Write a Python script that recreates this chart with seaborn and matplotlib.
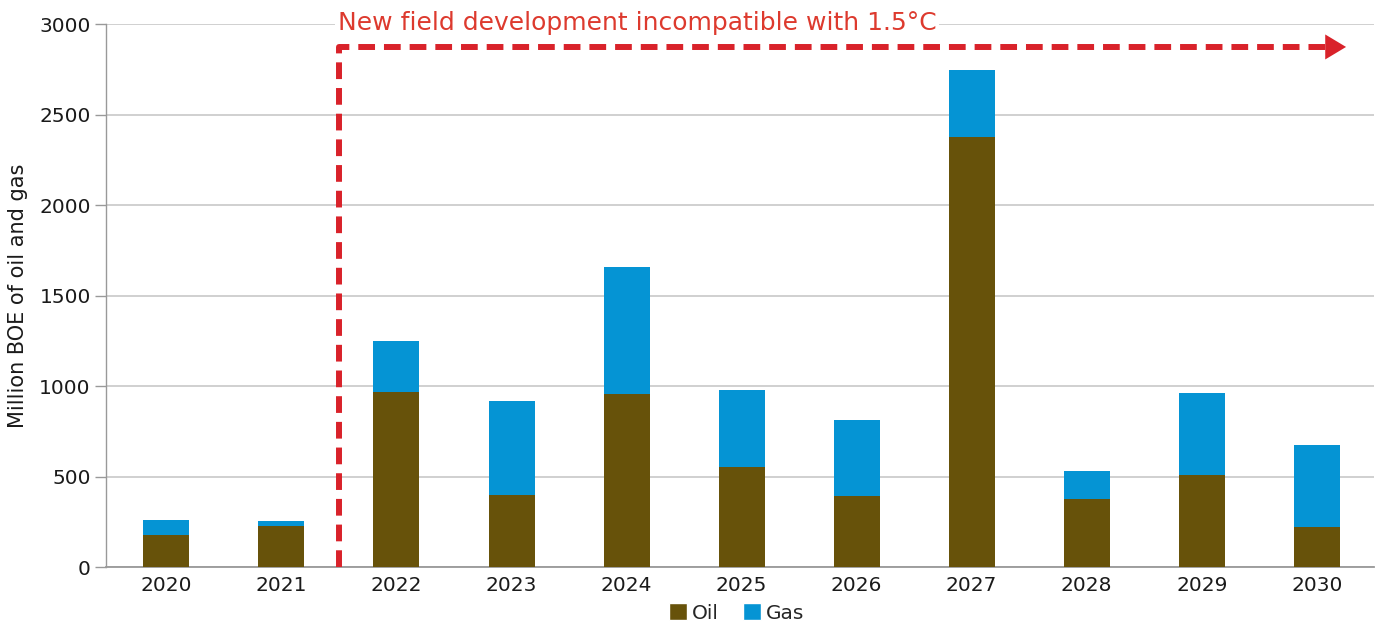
import numpy as np
import pandas as pd
import matplotlib
matplotlib.use("Agg")
import matplotlib.pyplot as plt
from matplotlib.patches import Patch
import seaborn as sns

years = ["2020", "2021", "2022", "2023", "2024", "2025", "2026", "2027", "2028", "2029", "2030"]
oil = [180, 228, 968, 400, 957, 556, 393, 2378, 379, 509, 225]
gas = [82, 28, 282, 516, 702, 426, 422, 368, 155, 455, 451]
yticks = [0, 500, 1000, 1500, 2000, 2500, 3000]

OIL_C = "#67520a"
GAS_C = "#0594d4"
RED = "#d9222a"
TXT = "#1a1a1a"
GRID = "#c8c8c8"

df = pd.DataFrame({"year": years, "oil": oil, "gas": gas})
df["total"] = df["oil"] + df["gas"]

sns.set_theme(style="white")
plt.rcParams["font.family"] = ["DejaVu Sans"]

fig = plt.figure(figsize=(13.77, 6.24), dpi=100)
ax = fig.add_axes([0.077, 0.091, 0.921, 0.870])

# stacked bars: full height in gas colour, oil drawn over the lower part
sns.barplot(data=df, x="year", y="total", color=GAS_C, width=0.4,
            saturation=1, ax=ax, zorder=3, edgecolor="none")
sns.barplot(data=df, x="year", y="oil", color=OIL_C, width=0.4,
            saturation=1, ax=ax, zorder=4, edgecolor="none")

ax.set_xlim(-0.525, 10.5)
ax.set_ylim(0, 3000)
ax.set_yticks(yticks)
ax.set_yticklabels([str(t) for t in yticks], fontsize=14.5, color=TXT)
ax.tick_params(axis="x", labelsize=14.5, colors=TXT, length=0, pad=6)
ax.tick_params(axis="y", length=8, width=1, color="#999999", pad=3, left=True)
ax.yaxis.grid(True, color=GRID, linewidth=1.2, zorder=0)
ax.set_axisbelow(True)
ax.set_xlabel("")
ax.set_ylabel("Million BOE of oil and gas", fontsize=15, color=TXT, labelpad=8)

for s in ["top", "right"]:
    ax.spines[s].set_visible(False)
ax.spines["left"].set_color("#999999")
ax.spines["left"].set_linewidth(1)
ax.spines["bottom"].set_color("#999999")
ax.spines["bottom"].set_linewidth(1.3)

# boundary of new field development
x0, x1, yl = 1.5, 10.1, 2875
ax.plot([x0, x0, x1], [0, yl, yl], color=RED, linewidth=4.3,
        dashes=(2.8, 1.5), zorder=5, clip_on=False, solid_capstyle="butt")
ax.annotate("", xy=(10.255, yl), xytext=(10.05, yl),
            arrowprops=dict(arrowstyle="-|>,head_length=1.25,head_width=0.75",
                            color=RED, lw=0, shrinkA=0, shrinkB=0),
            zorder=6, annotation_clip=False)
ax.text(x0 - 0.01, 3010, "New field development incompatible with 1.5°C",
        color="#dd3a2e", fontsize=18, ha="left", va="center", zorder=6,
        bbox=dict(facecolor="white", edgecolor="none", pad=2))

handles = [Patch(facecolor=OIL_C, label="Oil"), Patch(facecolor=GAS_C, label="Gas")]
fig.legend(handles=handles, loc="lower center", bbox_to_anchor=(0.535, -0.027),
           ncol=2, frameon=False, fontsize=14.5, handlelength=0.9, handleheight=0.9,
           handletextpad=0.25, columnspacing=1.2)

fig.savefig("out.png", dpi=100, facecolor="white")
